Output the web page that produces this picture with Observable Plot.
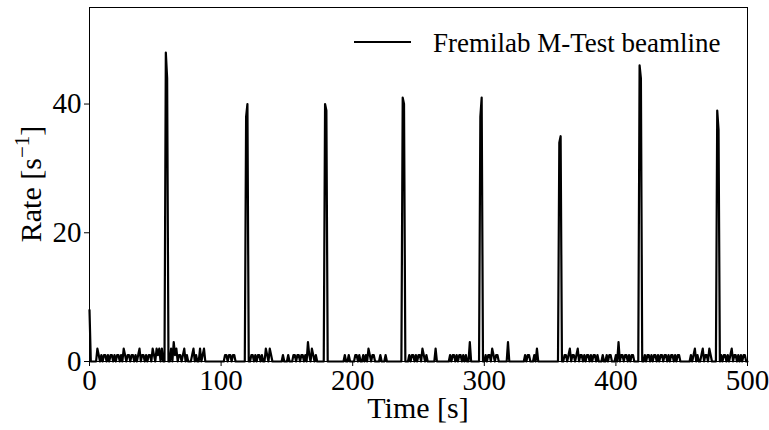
<!DOCTYPE html>
<html>
<head>
<meta charset="utf-8">
<script src="https://cdn.jsdelivr.net/npm/d3@7"></script>
<script src="https://cdn.jsdelivr.net/npm/@observablehq/plot@0.6"></script>
<style>
  html, body { margin: 0; padding: 0; background: #fff; }
  #chart { position: relative; width: 769px; height: 430px; }
</style>
</head>
<body>
<div id="chart"></div>
<script>
// Rate samples, one per second from t = 0 to t = 500 s
const rate = [
  8,0,0,0,0,0,2,1,0,1,
  0,1,1,0,1,0,1,1,0,1,
  0,1,1,0,1,0,2,1,0,1,
  1,0,1,1,0,1,0,1,2,0,
  1,1,0,1,0,1,1,0,2,1,
  0,2,1,2,0,2,0,0,48,44,
  0,0,2,0,3,1,2,0,1,1,
  0,1,2,0,1,0,0,0,1,2,
  0,1,0,0,2,0,1,2,0,0,
  0,0,0,0,0,0,0,0,0,0,
  0,0,0,1,1,0,1,1,0,1,
  1,0,0,0,0,0,0,0,0,38,
  40,0,0,1,1,0,1,0,1,1,
  0,1,0,0,2,1,0,2,1,0,
  0,0,0,0,0,0,0,1,0,0,
  0,1,0,0,0,1,1,0,1,1,
  0,1,1,0,1,0,3,1,0,2,
  1,0,1,0,0,0,0,0,0,40,
  39,0,0,0,0,0,0,0,0,0,
  0,0,0,0,1,0,0,1,0,0,
  0,0,1,1,0,1,0,0,1,0,
  1,0,2,1,0,1,1,0,0,0,
  0,1,0,0,0,1,0,0,0,0,
  0,0,0,0,0,0,0,0,41,40,
  0,0,0,1,0,1,1,0,1,0,
  1,1,0,2,1,0,1,0,0,0,
  0,0,0,2,0,0,0,0,0,0,
  0,0,0,0,1,0,1,1,0,1,
  0,1,1,0,1,0,1,0,0,3,
  0,0,0,0,0,0,0,38,41,0,
  0,1,0,1,1,0,2,1,0,1,
  1,0,0,0,0,0,0,0,3,0,
  0,0,0,0,0,0,0,0,0,0,
  0,1,0,1,1,0,0,0,1,0,
  2,0,0,0,0,0,0,0,0,0,
  0,0,0,0,0,0,0,34,35,0,
  0,1,1,0,1,2,0,1,1,0,
  1,2,0,1,1,0,1,0,1,1,
  0,1,0,1,1,0,1,0,0,0,
  1,0,0,1,0,1,1,0,0,0,
  1,0,3,0,1,1,0,1,1,0,
  1,0,1,1,0,0,0,0,46,44,
  0,0,1,0,1,1,0,1,0,1,
  1,0,1,0,1,1,0,1,1,0,
  1,0,1,1,0,1,0,1,1,0,
  0,0,0,0,0,0,0,1,0,1,
  2,0,1,0,0,1,2,0,1,1,
  0,2,1,0,0,0,0,39,36,0,
  1,0,1,1,0,1,0,1,2,0,
  1,1,0,1,0,1,0,1,1,0,
  0
];
const timeStart = 0;   // s
const timeStep = 1;    // s
const xTicks = [0, 100, 200, 300, 400, 500];
const yTicks = [0, 20, 40];
const xDomain = [0, 500];
const yDomain = [0, 55];
const seriesName = "Fremilab M-Test beamline";
const xLabel = "Time [s]";

const data = rate.map((r, i) => ({t: timeStart + i * timeStep, rate: r}));

const FONT = "'Liberation Serif', 'DejaVu Serif', serif";

const plot = Plot.plot({
  width: 769,
  height: 430,
  marginLeft: 89,
  marginRight: 22,
  marginTop: 7,
  marginBottom: 69,
  style: {fontFamily: FONT, fontSize: "29px", color: "#000", background: "#fff", overflow: "visible"},
  x: {domain: xDomain},
  y: {domain: yDomain},
  marks: [
    Plot.line(data, {x: "t", y: "rate", stroke: "#000", strokeWidth: 2.2, strokeLinejoin: "round"}),
    Plot.frame({stroke: "#000", strokeWidth: 1}),
    Plot.axisX({ticks: xTicks, tickSize: 5, tickPadding: 3, fontSize: 29, label: null, tickFormat: d => String(d)}),
    Plot.axisY({ticks: yTicks, tickSize: 5, tickPadding: 3, fontSize: 29, label: null, tickFormat: d => String(d)})
  ]
});

document.getElementById("chart").appendChild(plot);

const svg = d3.select(plot);
// x axis label
svg.append("text")
  .attr("x", 418).attr("y", 418)
  .attr("text-anchor", "middle")
  .attr("font-family", FONT).attr("font-size", 30).attr("fill", "#000")
  .text(xLabel);
// y axis label with superscript
const yl = svg.append("text")
  .attr("transform", "translate(41,184) rotate(-90)")
  .attr("text-anchor", "middle")
  .attr("font-family", FONT).attr("font-size", 30).attr("fill", "#000");
yl.append("tspan").text("Rate [s");
yl.append("tspan").attr("dy", -12).attr("font-size", 21).text("\u22121");
yl.append("tspan").attr("dy", 12).text("]");

// legend
svg.append("line")
  .attr("x1", 354).attr("x2", 411).attr("y1", 42).attr("y2", 42)
  .attr("stroke", "#000").attr("stroke-width", 2.2);
svg.append("text")
  .attr("x", 433).attr("y", 52)
  .attr("text-anchor", "start")
  .attr("font-family", FONT).attr("font-size", 27).attr("fill", "#000")
  .text(seriesName);
</script>
</body>
</html>
